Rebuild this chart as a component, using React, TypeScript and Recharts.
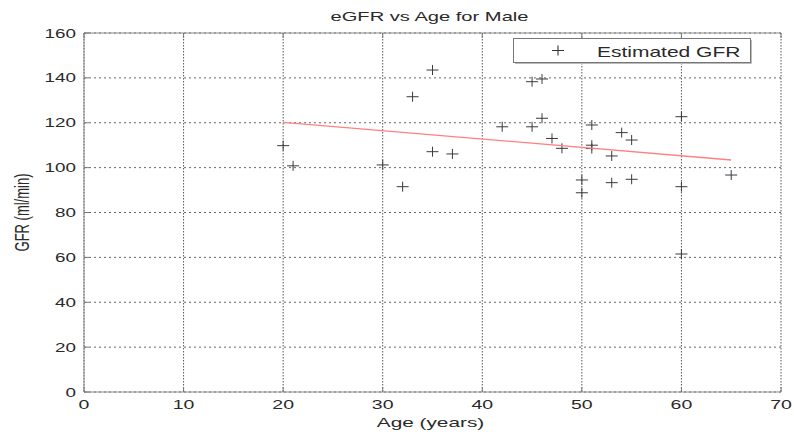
import * as React from "react";
import { ScatterChart, Scatter, XAxis, YAxis, CartesianGrid, Legend, Label } from "recharts";

// values
const ages = [20, 21, 30, 32, 33, 35, 35, 37, 42, 45, 46, 45, 46, 47, 48, 50, 50, 51, 51, 51, 53, 53, 54, 55, 55, 60, 60, 60, 65];
const gfrValues = [
  109.8, 100.8, 101.2, 91.5, 131.6, 143.5, 107.1, 106.1, 118.2, 138.3, 139.5, 118.2, 122, 113, 108.6, 94.5, 88.8, 119,
  110, 108.5, 105.2, 93.3, 115.6, 112.3, 94.8, 122.7, 91.5, 61.5, 96.7,
];
const fitAges = [20, 65];
const fitGfr = [120.2, 103.4];
const xTicks = [0, 10, 20, 30, 40, 50, 60, 70];
const yTicks = [0, 20, 40, 60, 80, 100, 120, 140, 160];

const points = ages.map((age, i) => ({ age, gfr: gfrValues[i] }));
const fitLine = fitAges.map((age, i) => ({ age, gfr: fitGfr[i] }));

const FONT = "'Liberation Sans', Arial, sans-serif";
const TEXT = "#2a2a2a";
const FRAME = "#8a8a8a";

function Plus(props: any) {
  const { cx, cy } = props;
  if (cx == null || cy == null) return <g />;
  return <path d={`M${cx - 6},${cy}h12M${cx},${cy - 5}v10`} stroke="#3a3a3a" strokeWidth={1} fill="none" />;
}

function XTick(props: any) {
  return (
    <g transform={`translate(${props.x},${props.y})`}>
      <text transform="scale(1.5,1)" textAnchor="middle" dy="0.71em" fontSize={13} fontFamily={FONT} fill={TEXT}>
        {props.payload.value}
      </text>
    </g>
  );
}

function YTick(props: any) {
  return (
    <g transform={`translate(${props.x},${props.y})`}>
      <text transform="scale(1.45,1)" textAnchor="end" dy="0.355em" fontSize={13} fontFamily={FONT} fill={TEXT}>
        {props.payload.value}
      </text>
    </g>
  );
}

const renderTitle = (props: any) => {
  const vb = props.viewBox;
  return (
    <g transform={`translate(${vb.x + vb.width / 2 - 3},21)`}>
      <text transform="scale(1.55,1)" textAnchor="middle" fontSize={13} fontFamily={FONT} fill={TEXT}>
        eGFR vs Age for Male
      </text>
    </g>
  );
};

const renderXLabel = (props: any) => {
  const vb = props.viewBox;
  return (
    <g transform={`translate(${vb.x + vb.width / 2 - 2},${vb.y + 35})`}>
      <text transform="scale(1.6,1)" textAnchor="middle" fontSize={13} fontFamily={FONT} fill={TEXT}>
        Age (years)
      </text>
    </g>
  );
};

const renderYLabel = (props: any) => {
  const vb = props.viewBox;
  return (
    <g transform={`translate(29,${vb.y + vb.height / 2})`}>
      <text transform="scale(1.55,1) rotate(-90)" textAnchor="middle" fontSize={13} fontFamily={FONT} fill={TEXT}>
        GFR (ml/min)
      </text>
    </g>
  );
};

const renderLegend = () => (
  <svg width={239} height={26} style={{ display: "block" }}>
    <rect x={0.5} y={0.5} width={237} height={24} fill="#fff" stroke="#777" />
    <line x1={238.5} y1={2} x2={238.5} y2={25.5} stroke="#bbb" />
    <line x1={2} y1={25.5} x2={238.5} y2={25.5} stroke="#bbb" />
    <path d="M39,12.5h12M45,7.5v10" stroke="#333" strokeWidth={1.1} fill="none" />
    <g transform="translate(84,18.5)">
      <text transform="scale(1.5,1)" fontSize={14} fontFamily={FONT} fill={TEXT}>
        Estimated GFR
      </text>
    </g>
  </svg>
);

export default function App() {
  return (
    <div style={{ position: "fixed", left: 0, top: 0, width: 794, height: 432, background: "#fff" }}>
      <ScatterChart width={794} height={432} margin={{ top: 3, right: 13, bottom: 0, left: 0 }}>
        <CartesianGrid vertical={false} stroke="#666" strokeDasharray="2 3" />
        <CartesianGrid horizontal={false} stroke="#555" strokeDasharray="1.5 1.5" />
        <XAxis
          type="number"
          dataKey="age"
          domain={[0, 70]}
          ticks={xTicks}
          height={40}
          axisLine={{ stroke: FRAME }}
          tickLine={{ stroke: "#777" }}
          tickSize={-5}
          tickMargin={13}
          tick={<XTick />}
          allowDataOverflow
        >
          <Label content={renderXLabel} />
        </XAxis>
        <XAxis
          xAxisId="top"
          orientation="top"
          type="number"
          dataKey="age"
          domain={[0, 70]}
          ticks={xTicks}
          height={30}
          axisLine={{ stroke: FRAME }}
          tickLine={{ stroke: "#777" }}
          tickSize={-5}
          tickFormatter={() => ""}
          allowDataOverflow
        >
          <Label content={renderTitle} />
        </XAxis>
        <YAxis
          type="number"
          dataKey="gfr"
          domain={[0, 160]}
          ticks={yTicks}
          width={84}
          axisLine={{ stroke: FRAME }}
          tickLine={{ stroke: "#777" }}
          tickSize={-5}
          tickMargin={13}
          tick={<YTick />}
          allowDataOverflow
        >
          <Label content={renderYLabel} />
        </YAxis>
        <YAxis
          yAxisId="right"
          orientation="right"
          type="number"
          dataKey="gfr"
          domain={[0, 160]}
          ticks={yTicks}
          width={0}
          axisLine={{ stroke: FRAME }}
          tickLine={{ stroke: "#777" }}
          tickSize={-5}
          tickFormatter={() => ""}
          allowDataOverflow
        />
        <Scatter name="Estimated GFR" data={points} shape={<Plus />} isAnimationActive={false} />
        <Scatter
          name="fit"
          xAxisId="top"
          yAxisId="right"
          data={fitLine}
          line={{ stroke: "#ff8080", strokeWidth: 1.3 }}
          shape={() => <g />}
          legendType="none"
          isAnimationActive={false}
        />
        <Legend
          layout="horizontal"
          verticalAlign="middle"
          align="center"
          wrapperStyle={{ top: 38, left: 513, width: 239, height: 26 }}
          content={renderLegend}
        />
      </ScatterChart>
    </div>
  );
}
